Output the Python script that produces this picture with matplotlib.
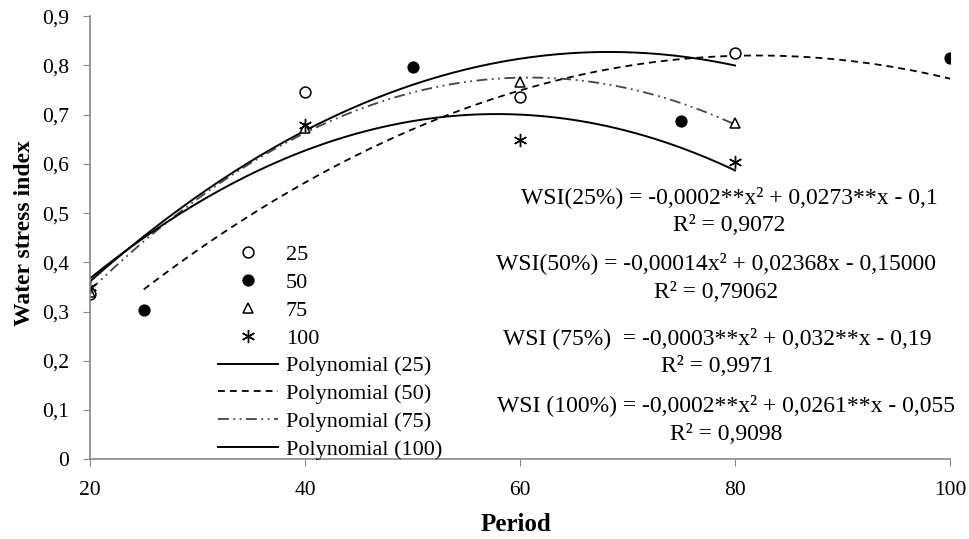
import numpy as np
import matplotlib
matplotlib.use("Agg")
import matplotlib.pyplot as plt
from matplotlib.lines import Line2D

# data
x_25 = [20, 40, 60, 80]
y_25 = [0.335, 0.746, 0.735, 0.826]
x_50 = [25, 50, 75, 100]
y_50 = [0.303, 0.796, 0.687, 0.815]
x_75 = [20, 40, 60, 80]
y_75 = [0.340, 0.672, 0.766, 0.683]
x_100 = [20, 40, 60, 80]
y_100 = [0.350, 0.679, 0.648, 0.604]

y_ticks = [0, 0.1, 0.2, 0.3, 0.4, 0.5, 0.6, 0.7, 0.8, 0.9]
y_tick_labels = ["0", "0,1", "0,2", "0,3", "0,4", "0,5", "0,6", "0,7", "0,8", "0,9"]
x_ticks = [20, 40, 60, 80, 100]

equations = [
    ("WSI(25%) = -0,0002**x² + 0,0273**x - 0,1", "R² = 0,9072"),
    ("WSI(50%) = -0,00014x² + 0,02368x - 0,15000", "R² = 0,79062"),
    ("WSI (75%)  = -0,0003**x² + 0,032**x - 0,19", "R² = 0,9971"),
    ("WSI (100%) = -0,0002**x² + 0,0261**x - 0,055", "R² = 0,9098"),
]

plt.rcParams['font.family'] = ['Liberation Serif', 'DejaVu Serif']

fig = plt.figure(figsize=(9.7, 5.39), dpi=100)
ax = fig.add_axes([0.0928, 0.148, 0.8866, 0.822])

# polynomial trend line from the points of one series
def trend(xs, ys):
    c = np.polyfit(xs, ys, 2)
    xx = np.linspace(min(xs), max(xs), 200)
    return xx, np.polyval(c, xx)

styles = {
    "25": dict(color="black", lw=1.4, ls="-"),
    "50": dict(color="black", lw=1.3, ls=(0, (3.8, 2.8))),
    "75": dict(color="#444444", lw=1.3, ls=(0, (6, 2.5, 1, 2.5, 1, 2.5))),
    "100": dict(color="black", lw=1.4, ls="-"),
}

for key, xs, ys in [("25", x_25, y_25), ("50", x_50, y_50),
                     ("75", x_75, y_75), ("100", x_100, y_100)]:
    xx, yy = trend(xs, ys)
    ax.plot(xx, yy, **styles[key])

m25 = dict(marker="o", ms=7.8, mfc="white", mec="black", mew=1.1)
m50 = dict(marker="o", ms=7.8, mfc="black", mec="black")
m75 = dict(marker="^", ms=7.8, mfc="white", mec="black", mew=1.1)
m100 = dict(marker=(6, 2, 0), ms=9.5, mec="black", mew=1.0)

ax.plot(x_25, y_25, ls="none", **m25)
ax.plot(x_50, y_50, ls="none", **m50)
ax.plot(x_75, y_75, ls="none", **m75)
ax.plot(x_100, y_100, ls="none", **m100)

ax.set_xlim(20, 100)
ax.set_ylim(0, 0.9)
ax.set_xticks(x_ticks)
ax.set_yticks(y_ticks)
ax.set_yticklabels(y_tick_labels)
ax.tick_params(labelsize=15.5, color="#888888", length=5, direction="out")
ax.tick_params(axis="y", pad=10)
ax.tick_params(axis="x", pad=11)
for s in ["top", "right"]:
    ax.spines[s].set_visible(False)
for s in ["left", "bottom"]:
    ax.spines[s].set_color("#888888")
    ax.spines[s].set_linewidth(1.2)

ax.set_xlabel("Period", fontsize=18, fontweight="bold")
ax.set_ylabel("Water stress index", fontsize=17, fontweight="bold")
ax.xaxis.set_label_coords(0.495, -0.122)
ax.yaxis.set_label_coords(-0.064, 0.51)

# legend
handles = [Line2D([], [], ls="none", **m25), Line2D([], [], ls="none", **m50),
           Line2D([], [], ls="none", **m75), Line2D([], [], ls="none", **m100),
           Line2D([], [], **styles["25"]), Line2D([], [], **styles["50"]),
           Line2D([], [], **styles["75"]), Line2D([], [], **styles["100"])]
labels = ["25", "50", "75", "100", "Polynomial (25)", "Polynomial (50)",
          "Polynomial (75)", "Polynomial (100)"]
fig.legend(handles, labels, loc="upper left", bbox_to_anchor=(0.2247, 0.546),
           frameon=False, fontsize=16, handlelength=2.7, handletextpad=0.36,
           labelspacing=0.325, borderpad=0, borderaxespad=0)

# trend equations
eq_pos = [(729, 197, 225), (716, 263, 293), (717, 338, 367), (726, 405, 435)]
for (eq, r2), (px, y1, y2) in zip(equations, eq_pos):
    fig.text(px / 970, 1 - y1 / 539, eq, ha="center", va="center", fontsize=17)
    fig.text(px / 970, 1 - y2 / 539, r2, ha="center", va="center", fontsize=17)

fig.savefig("out.png", dpi=100)
